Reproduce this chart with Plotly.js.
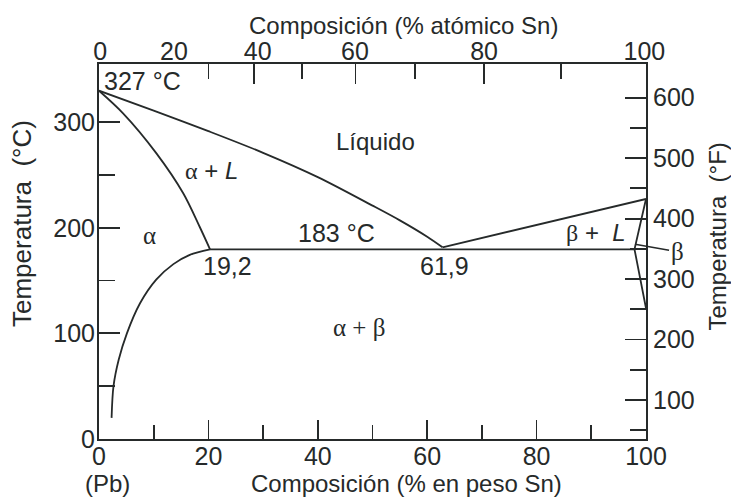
<!DOCTYPE html>
<html>
<head>
<meta charset="utf-8">
<script src="https://cdn.plot.ly/plotly-3.0.1.min.js"></script>
<style>html,body{margin:0;padding:0;background:#fff;}#chart{width:731px;height:497px;}</style>
</head>
<body>
<div id="chart"></div>
<script>
// ---- data (composition in wt% Sn, temperature in °C) ----
const liquidusWt = [0, 10, 20, 30, 40, 50, 55, 60, 62.8];
const liquidusT  = [329.8, 311, 291.5, 271, 248, 221, 207, 191.5, 181.5];

const solidusAlphaWt = [0, 4.4, 10.5, 15.4, 18.4, 20.3];
const solidusAlphaT  = [329.8, 308.4, 270.5, 232.7, 201, 179.6];

const solvusAlphaWt = [20.3, 16.6, 13.6, 10.5, 7.5, 5.1, 3.6, 2.65, 2.3];
const solvusAlphaT  = [179.6, 174.4, 165.6, 151.1, 128.5, 100, 75, 50, 20];

const liquidusBetaWt = [62.8, 100];
const liquidusBetaT  = [181.5, 227.3];

const betaBoundaryWt = [100, 98.0, 97.9, 100];
const betaBoundaryT  = [227.3, 184.5, 179.6, 123.8];

const eutecticWt = [20.3, 97.9];
const eutecticT  = [179.6, 179.6];

// ---- axis ticks ----
const wtTicks = [0, 20, 40, 60, 80, 100];
const wtMinorTicks = [10, 30, 50, 70, 90];
const atLabels = ['0', '20', '40', '60', '80', '100'];
const atLabelPos = [0.2, 13.7, 29.0, 46.8, 70.4, 99.7];     // wt% position of at% labels
const atMajorTickPos = [28.3, 46.9, 70.4];                  // 40, 60, 80 at%
const atMinorTickPos = [20.0, 37.1, 57.8, 84.5];            // 30, 50, 70, 90 at%
const cTicks = [0, 100, 200, 300];
const cMinorTicks = [50, 150, 250];
const fTicks = [100, 200, 300, 400, 500, 600];
const fMinorTicks = [50, 150, 250, 350, 450, 550];

const INK = '#262a2a';
const SANS = 'Liberation Sans, Arial, sans-serif';
const g = s => '<span style="font-family:Liberation Serif, serif">' + s + '</span>';

const lineStyle = {color: INK, width: 1.8};
function curve(x, y, shape) {
  return {type: 'scatter', mode: 'lines', x: x, y: y, line: Object.assign({shape: shape || 'linear', smoothing: 0.9}, lineStyle), hoverinfo: 'skip', showlegend: false};
}

const traces = [
  curve(liquidusWt, liquidusT, 'spline'),
  curve(solidusAlphaWt, solidusAlphaT, 'spline'),
  curve(solvusAlphaWt, solvusAlphaT, 'spline'),
  curve(liquidusBetaWt, liquidusBetaT),
  curve(betaBoundaryWt, betaBoundaryT),
  curve(eutecticWt, eutecticT),
  {type: 'scatter', mode: 'lines', x: [null], y: [null], xaxis: 'x2', yaxis: 'y', showlegend: false, hoverinfo: 'skip'},
  {type: 'scatter', mode: 'lines', x: [null], y: [null], xaxis: 'x3', yaxis: 'y', showlegend: false, hoverinfo: 'skip'},
  {type: 'scatter', mode: 'lines', x: [null], y: [null], xaxis: 'x', yaxis: 'y2', showlegend: false, hoverinfo: 'skip'}
];

const tickFont = {family: SANS, size: 25, color: INK};
const common = {showgrid: false, zeroline: false, fixedrange: true, tickcolor: INK, tickwidth: 1.8, linecolor: INK, linewidth: 2};

const L = 99, R = 646, T = 64, B = 439;
const px = x => (x - L) / (R - L);
const py = y => (B - y) / (B - T);

function label(text, x, y, size, extra) {
  return Object.assign({text: text, x: x, y: y, xref: 'x', yref: 'y', showarrow: false,
    xanchor: 'center', yanchor: 'middle', font: {family: SANS, size: size || 24, color: INK}}, extra || {});
}

const annotations = [
  label('327 °C', 0.6, 339, 25, {xanchor: 'left'}),
  label('Líquido', 50.6, 282, 24),
  label(g('α') + ' + <i>L</i>', 20.5, 254, 24),
  label(g('α'), 9.3, 193, 25),
  label('183 °C', 43.5, 195, 25),
  label('19,2', 23.5, 164, 25),
  label('61,9', 63.1, 164, 25),
  label(g('α + β'), 47.5, 106, 25),
  label(g('β') + ' +\u00a0 <i>L</i>', 90.9, 196, 24),
  label(g('β'), 98.0, 184.4, 25, {showarrow: true, arrowhead: 0, arrowwidth: 1.5, arrowcolor: INK, ax: 42, ay: 7.5, standoff: 0}),
  label('(Pb)', 1.6, 0, 24, {yref: 'paper', y: py(483.5)}),
  label('(Sn)', 101.8, 0, 24, {yref: 'paper', y: py(483.5)}),
  {text: 'Composición (% en peso Sn)', xref: 'paper', yref: 'paper', x: px(406.7), y: py(483), showarrow: false, xanchor: 'center', yanchor: 'middle', font: {family: SANS, size: 24, color: INK}},
  {text: 'Composición (% atómico Sn)', xref: 'paper', yref: 'paper', x: px(404), y: py(25.5), showarrow: false, xanchor: 'center', yanchor: 'middle', font: {family: SANS, size: 24, color: INK}},
  {text: 'Temperatura\u00a0 (°C)', xref: 'paper', yref: 'paper', x: px(22), y: py(224), showarrow: false, textangle: -90, xanchor: 'center', yanchor: 'middle', font: {family: SANS, size: 26, color: INK}},
  {text: 'Temperatura\u00a0 (°F)', xref: 'paper', yref: 'paper', x: px(717), y: py(236.5), showarrow: false, textangle: -90, xanchor: 'center', yanchor: 'middle', font: {family: SANS, size: 24, color: INK}}
];

const layout = {
  width: 731, height: 497,
  margin: {l: L, r: 731 - R, t: T, b: 497 - B, pad: 0},
  paper_bgcolor: '#fff', plot_bgcolor: '#fff',
  showlegend: false,
  xaxis: Object.assign({}, common, {range: [0, 100], tickmode: 'array', tickvals: wtTicks, ticks: 'inside', ticklen: 19, tickfont: tickFont, showline: true, ticklabelstandoff: -6,
    minor: {tickmode: 'array', tickvals: wtMinorTicks, ticks: 'inside', ticklen: 14, tickwidth: 1.8, tickcolor: INK, showgrid: false}}),
  xaxis2: Object.assign({}, common, {overlaying: 'x', side: 'top', anchor: 'y', range: [0, 100], tickmode: 'array', tickvals: atLabelPos, ticktext: atLabels, ticks: '', tickfont: tickFont, showline: true, ticklabelstandoff: -8}),
  xaxis3: Object.assign({}, common, {overlaying: 'x', side: 'top', anchor: 'y', range: [0, 100], tickmode: 'array', tickvals: atMajorTickPos, ticks: 'inside', ticklen: 20, showticklabels: false, showline: false,
    minor: {tickmode: 'array', tickvals: atMinorTickPos, ticks: 'inside', ticklen: 15, tickwidth: 1.8, tickcolor: INK, showgrid: false}}),
  yaxis: Object.assign({}, common, {range: [0, 355.1], tickmode: 'array', tickvals: cTicks, ticks: 'inside', ticklen: 21, tickfont: tickFont, showline: true, ticklabelstandoff: -3,
    minor: {tickmode: 'array', tickvals: cMinorTicks, ticks: 'inside', ticklen: 16, tickwidth: 1.8, tickcolor: INK, showgrid: false}}),
  yaxis2: Object.assign({}, common, {overlaying: 'y', side: 'right', anchor: 'x', range: [35.5, 655.7], tickmode: 'array', tickvals: fTicks, ticks: 'inside', ticklen: 21, tickfont: tickFont, showline: true,
    minor: {tickmode: 'array', tickvals: fMinorTicks, ticks: 'inside', ticklen: 16, tickwidth: 1.8, tickcolor: INK, showgrid: false}}),
  annotations: annotations
};

Plotly.newPlot('chart', traces, layout, {staticPlot: true, displayModeBar: false});
</script>
</body>
</html>
